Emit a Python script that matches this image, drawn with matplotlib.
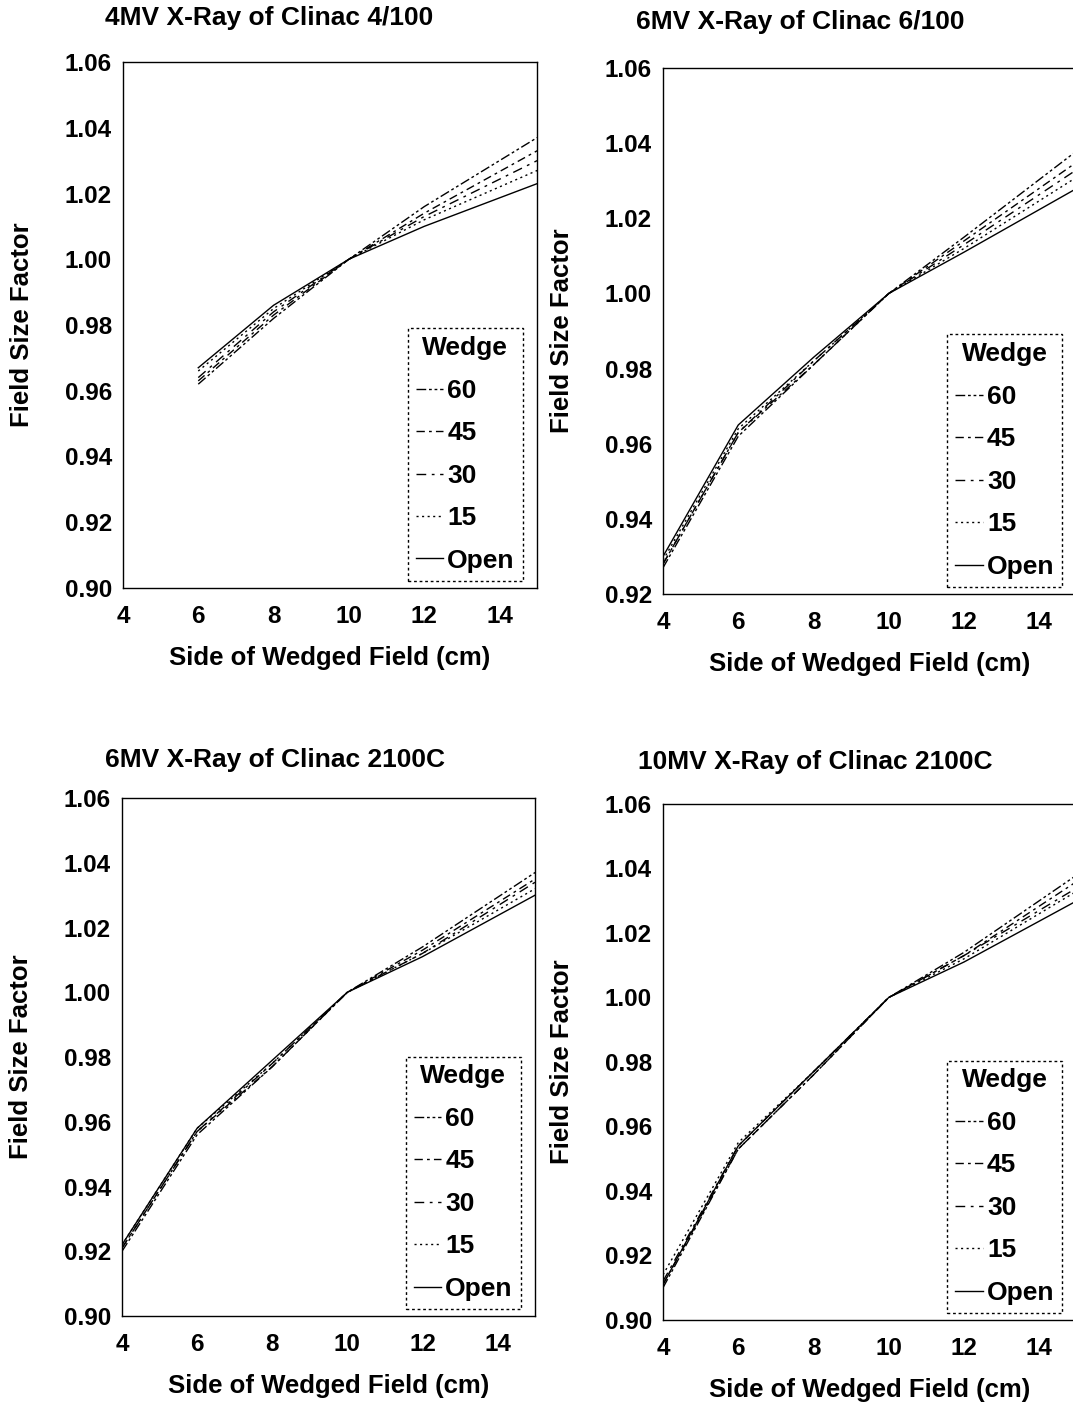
import matplotlib.pyplot as plt

plt.rcParams['font.family'] = ['Liberation Sans', 'DejaVu Sans']
plt.rcParams['font.weight'] = 'bold'

wedges = ['60', '45', '30', '15', 'Open']
styles = {
    '60': (0, (7, 2, 2, 2, 2, 2)),
    '45': (0, (6, 3, 2, 3)),
    '30': (0, (7, 4, 2, 4)),
    '15': (0, (1.5, 2.5)),
    'Open': '-',
}

titles = ['4MV X-Ray of Clinac 4/100', '6MV X-Ray of Clinac 6/100',
          '6MV X-Ray of Clinac 2100C', '10MV X-Ray of Clinac 2100C']

# field sides (cm)
side_a = [6, 8, 10, 12, 15]
side_b = [4, 6, 8, 10, 12, 15]

# panel 1: 4MV Clinac 4/100
fsf_a = {
    '60': [0.962, 0.982, 1.000, 1.016, 1.037],
    '45': [0.963, 0.983, 1.000, 1.014, 1.033],
    '30': [0.964, 0.984, 1.000, 1.013, 1.030],
    '15': [0.966, 0.985, 1.000, 1.012, 1.027],
    'Open': [0.967, 0.986, 1.000, 1.010, 1.023],
}
# panel 2: 6MV Clinac 6/100
fsf_b = {
    '60': [0.927, 0.962, 0.981, 1.000, 1.015, 1.038],
    '45': [0.928, 0.963, 0.981, 1.000, 1.014, 1.035],
    '30': [0.928, 0.963, 0.982, 1.000, 1.013, 1.033],
    '15': [0.929, 0.964, 0.982, 1.000, 1.012, 1.031],
    'Open': [0.930, 0.965, 0.983, 1.000, 1.011, 1.028],
}
# panel 3: 6MV Clinac 2100C
fsf_c = {
    '60': [0.920, 0.956, 0.977, 1.000, 1.014, 1.037],
    '45': [0.921, 0.957, 0.977, 1.000, 1.013, 1.035],
    '30': [0.921, 0.957, 0.978, 1.000, 1.012, 1.034],
    '15': [0.922, 0.958, 0.978, 1.000, 1.012, 1.032],
    'Open': [0.922, 0.958, 0.979, 1.000, 1.011, 1.030],
}
# panel 4: 10MV Clinac 2100C
fsf_d = {
    '60': [0.910, 0.953, 0.976, 1.000, 1.014, 1.038],
    '45': [0.911, 0.953, 0.976, 1.000, 1.013, 1.036],
    '30': [0.912, 0.954, 0.977, 1.000, 1.013, 1.034],
    '15': [0.914, 0.955, 0.977, 1.000, 1.012, 1.033],
    'Open': [0.911, 0.954, 0.977, 1.000, 1.011, 1.030],
}

panels = [
    (side_a, fsf_a, (0.90, 1.06), [0.1146, 0.5818, 0.3860, 0.3741], (105, 18)),
    (side_b, fsf_b, (0.92, 1.06), [0.6179, 0.5775, 0.3858, 0.3741], (636, 22)),
    (side_b, fsf_c, (0.90, 1.06), [0.1137, 0.0640, 0.3850, 0.3684], (105, 760)),
    (side_b, fsf_d, (0.90, 1.06), [0.6179, 0.0612, 0.3858, 0.3670], (638, 762)),
]

fig = plt.figure(figsize=(10.73, 14.06), dpi=100)

for i, (xs, data, ylim, rect, tpos) in enumerate(panels):
    ax = fig.add_axes(rect)
    for w in wedges:
        ax.plot(xs, data[w], color='black', lw=1.0, ls=styles[w], label=w)
    ax.set_xlim(4, 15)
    ax.set_ylim(*ylim)
    ax.set_xticks([4, 6, 8, 10, 12, 14])
    yt = [round(ylim[0] + 0.02 * k, 2) for k in range(int(round((ylim[1] - ylim[0]) / 0.02)) + 1)]
    ax.set_yticks(yt)
    ax.set_yticklabels(['%.2f' % v for v in yt])
    ax.tick_params(length=0, labelsize=17.5)
    ax.tick_params(axis='x', pad=12)
    ax.tick_params(axis='y', pad=8)
    for lab in ax.get_xticklabels() + ax.get_yticklabels():
        lab.set_fontweight('bold')
    for s in ax.spines.values():
        s.set_linewidth(1.0)
    ax.set_xlabel('Side of Wedged Field (cm)', fontsize=18.5, fontweight='bold')
    ax.set_ylabel('Field Size Factor', fontsize=18.5, fontweight='bold')
    h = rect[3] * 1406
    w_px = rect[2] * 1073
    ax.xaxis.set_label_coords(0.5 * 414 / w_px, -58 / h)
    ax.yaxis.set_label_coords(-89 / w_px, 0.5)
    fig.text(tpos[0] / 1073, 1 - tpos[1] / 1406, titles[i], fontsize=19,
             fontweight='bold', ha='left', va='center')
    leg = ax.legend(title='Wedge', loc='lower right', bbox_to_anchor=(0.965, 0.014),
                    fontsize=19, title_fontproperties={'size': 19, 'weight': 'bold'},
                    handlelength=1.05, handletextpad=0.15, labelspacing=0.7,
                    borderpad=0.3, borderaxespad=0, fancybox=False, framealpha=1)
    fr = leg.get_frame()
    fr.set_edgecolor('black')
    fr.set_linestyle((0, (2, 2)))
    fr.set_linewidth(1.0)
    for t in leg.get_texts():
        t.set_fontweight('bold')

fig.savefig('out.png', dpi=100)
